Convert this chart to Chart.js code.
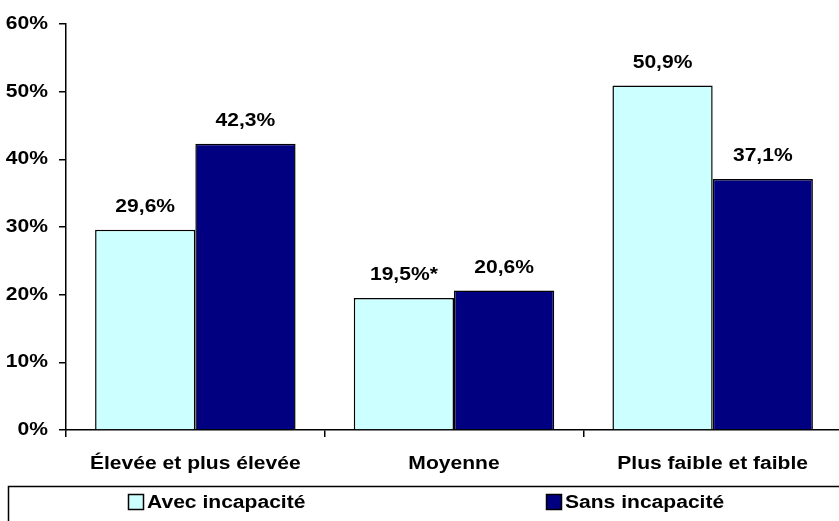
<!DOCTYPE html>
<html>
<head>
<meta charset="utf-8">
<script src="https://cdn.jsdelivr.net/npm/chart.js@4/dist/chart.umd.min.js"></script>
<style>
    html, body { margin: 0; padding: 0; background: #fff; overflow: hidden; }
    #wrap { position: relative; width: 839px; height: 521px; overflow: hidden; }
</style>
</head>
<body>
<div id="wrap"><canvas id="chart" width="845" height="521"></canvas></div>
<script>
const categories = ['Élevée et plus élevée', 'Moyenne', 'Plus faible et faible'];
const avecIncapacite = [29.6, 19.5, 50.9];
const sansIncapacite = [42.3, 20.6, 37.1];
const avecLabels = ['29,6%', '19,5%*', '50,9%'];
const sansLabels = ['42,3%', '20,6%', '37,1%'];
const yTicks = [0, 10, 20, 30, 40, 50, 60];

const FONT = "bold 18px 'Liberation Sans', Arial, sans-serif";
const STRETCH = 1.17; // the original text is a bit wide

function wideText(ctx, text, x, y, align) {
    ctx.save();
    ctx.translate(x, y);
    ctx.scale(STRETCH, 1);
    ctx.textAlign = align;
    ctx.fillText(text, 0, 0);
    ctx.restore();
}

// all texts: tick labels, value labels, boxed legend
const textLayer = {
    id: 'textLayer',
    afterDraw(chart) {
        const ctx = chart.ctx;
        const x = chart.scales.x, y = chart.scales.y;
        ctx.save();
        ctx.font = FONT;
        ctx.fillStyle = '#000';
        ctx.textBaseline = 'middle';

        yTicks.forEach(v => wideText(ctx, v + '%', 48, y.getPixelForValue(v), 'right'));
        chart.data.labels.forEach((lab, i) => wideText(ctx, lab, x.getPixelForValue(i), 464, 'center'));

        ctx.textBaseline = 'alphabetic';
        chart.data.datasets.forEach((ds, di) => {
            chart.getDatasetMeta(di).data.forEach((bar, i) => {
                wideText(ctx, ds.labels[i], bar.x, bar.y - 18, 'center');
            });
        });

        ctx.strokeStyle = '#000';
        ctx.lineWidth = 1.5;
        ctx.strokeRect(8.5, 486.5, 850, 40);
        ctx.textBaseline = 'middle';
        const items = [[128, chart.data.datasets[0]], [546, chart.data.datasets[1]]];
        items.forEach(([lx, ds]) => {
            ctx.fillStyle = ds.backgroundColor;
            ctx.fillRect(lx, 494, 15, 15);
            ctx.strokeRect(lx + 0.5, 494.5, 15, 15);
            ctx.fillStyle = '#000';
            wideText(ctx, ds.label, lx + 19, 503, 'left');
        });
        ctx.restore();
    }
};

new Chart(document.getElementById('chart'), {
    type: 'bar',
    data: {
        labels: categories,
        datasets: [
            {
                label: 'Avec incapacité',
                data: avecIncapacite,
                labels: avecLabels,
                backgroundColor: '#CCFFFF',
                borderColor: '#000',
                borderWidth: 1.5
            },
            {
                label: 'Sans incapacité',
                data: sansIncapacite,
                labels: sansLabels,
                backgroundColor: '#000080',
                borderColor: '#000',
                borderWidth: 1.5
            }
        ]
    },
    options: {
        responsive: false,
        animation: false,
        categoryPercentage: 0.775,
        barPercentage: 1,
        layout: { padding: { top: 24, right: 3, left: 0, bottom: 0 } },
        plugins: {
            legend: { display: false },
            tooltip: { enabled: false }
        },
        scales: {
            x: {
                afterFit(scale) { scale.height = 91; },
                grid: {
                    offset: true,
                    drawOnChartArea: false,
                    tickLength: 7,
                    color: '#000',
                    lineWidth: 1.5
                },
                border: { color: '#000', width: 1.5 },
                ticks: { display: false }
            },
            y: {
                min: 0,
                max: 60,
                afterFit(scale) { scale.width = 66; },
                afterBuildTicks(scale) { scale.ticks = yTicks.map(v => ({ value: v })); },
                grid: {
                    drawOnChartArea: false,
                    tickLength: 7,
                    color: '#000',
                    lineWidth: 1.5
                },
                border: { color: '#000', width: 1.5 },
                ticks: { display: false }
            }
        }
    },
    plugins: [textLayer]
});
</script>
</body>
</html>
